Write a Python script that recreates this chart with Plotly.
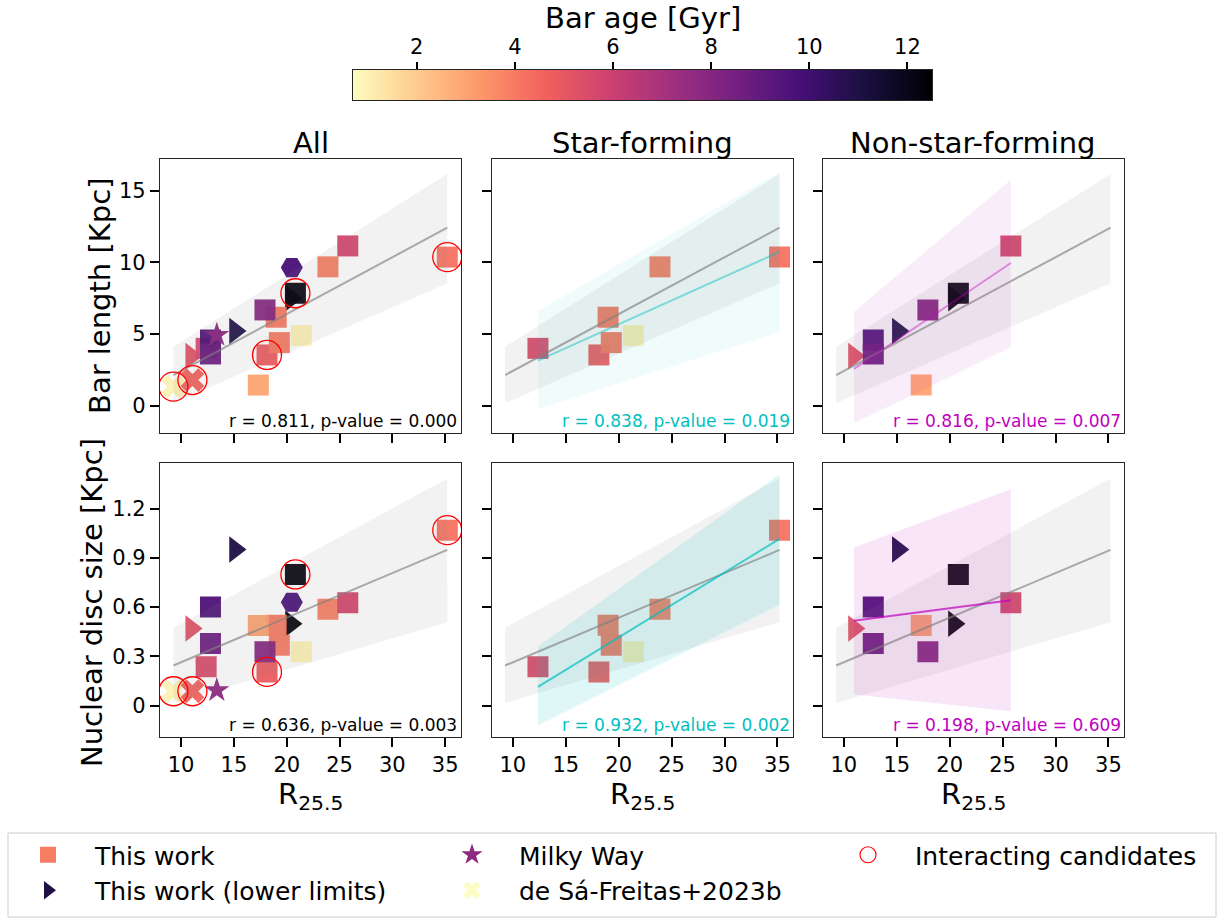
import numpy as np
import plotly.graph_objects as go
import plotly.express as px
from plotly.colors import sample_colorscale

# ---------------- data ----------------
# Star-forming galaxies (This work, squares)
sf_r = [12.37, 18.13, 19.0, 19.3, 21.38, 23.9, 35.2]
sf_bar = [4.0, 3.54, 6.17, 4.4, 4.89, 9.68, 10.36]
sf_nd = [0.236, 0.205, 0.49, 0.368, 0.327, 0.587, 1.069]
sf_age = [5.5, 4.8, 4.0, 4.0, 1.0, 3.9, 4.2]
sf_interact = [False, True, False, False, False, False, True]

# Non-star-forming galaxies (This work; lower limits drawn as triangles)
nsf_r = [10.95, 12.78, 12.78, 15.1, 17.94, 17.31, 20.82, 20.4, 25.78]
nsf_bar = [3.47, 4.58, 3.61, 5.21, 6.68, 1.44, 7.84, 7.49, 11.14]
nsf_nd = [0.47, 0.60, 0.378, 0.951, 0.327, 0.488, 0.799, 0.498, 0.626]
nsf_age = [5.2, 9.6, 8.8, 11.0, 8.0, 3.0, 12.3, 12.4, 5.7]
nsf_lower = [True, False, False, True, False, False, False, True, False]
nsf_interact = [False, False, False, False, False, False, True, False, False]

# Milky Way
mw_r = [13.38]
mw_bar = [4.93]
mw_nd = [0.093]
mw_age = [7.8]

# de Sa-Freitas+2023b
dsf_r = [9.27, 11.07]
dsf_bar = [1.33, 1.79]
dsf_nd = [0.087, 0.087]
dsf_age = [1.0, 4.6]
dsf_interact = [True, True]

# additional galaxy (hexagon)
hex_r = [20.48]
hex_bar = [9.63]
hex_nd = [0.63]
hex_age = [9.8]

# linear fits: [intercept, slope] for the fit line and the band edges
fit_all_bar, hi_all_bar, lo_all_bar = [-1.53, 0.396], [-0.181, 0.464], [-2.825, 0.323]
fit_all_nd, hi_all_nd, lo_all_nd = [-0.0078, 0.02716], [0.1485, 0.03511], [-0.160, 0.01898]
fit_sf_bar, hi_sf_bar, lo_sf_bar = [-0.971, 0.3323], [1.359, 0.4245], [-3.142, 0.2354]
fit_sf_nd, hi_sf_nd, lo_sf_nd = [-0.3743, 0.03948], [-0.2058, 0.0459], [-0.5207, 0.03223]
fit_nsf_bar, hi_nsf_bar, lo_nsf_bar = [-2.888, 0.498], [-0.241, 0.6206], [-5.140, 0.3578]
fit_nsf_nd, hi_nsf_nd, lo_nsf_nd = [0.4258, 0.008356], [0.7002, 0.02399], [0.1429, -0.006873]

stat_text = {
    1: "r = 0.811, p-value = 0.000", 2: "r = 0.838, p-value = 0.019", 3: "r = 0.816, p-value = 0.007",
    4: "r = 0.636, p-value = 0.003", 5: "r = 0.932, p-value = 0.002", 6: "r = 0.198, p-value = 0.609",
}
col_titles = ["All", "Star-forming", "Non-star-forming"]
row_labels = ["Bar length [Kpc]", "Nuclear disc size [Kpc]"]
x_ticks = [10, 15, 20, 25, 30, 35]
bar_ticks = [0, 5, 10, 15]
nd_ticks = [0, 0.3, 0.6, 0.9, 1.2]
nd_ticktext = ["0", "0.3", "0.6", "0.9", "1.2"]
age_ticks = [2, 4, 6, 8, 10, 12]

# ---------------- styling ----------------
W, H = 1224, 918
AGE_MIN, AGE_MAX = 0.7, 12.5
MAGMA_R = px.colors.sequential.Magma_r
FONT = "DejaVu Sans"
OPAC = 0.95
CYAN = "0,191,191"
MAG = "191,0,191"
GRAY = "128,128,128"
BIG = 29
TICK = 21


def age_color(a):
    return sample_colorscale(MAGMA_R, [(a - AGE_MIN) / (AGE_MAX - AGE_MIN)])[0]


def px2x(p):
    return p / W


def px2y(p):
    return 1 - p / H


col_dom = [(160, 461), (491.7, 793.3), (822.7, 1124.3)]
row_dom = [(159, 433), (462.7, 736.7)]

fig = go.Figure()


def ax_names(k):
    return ("x" if k == 1 else f"x{k}"), ("y" if k == 1 else f"y{k}")


def sel(vals, mask, keep=True):
    return [v for v, m in zip(vals, mask) if m == keep]


def scatter(k, xs, ys, ages, symbol, size):
    xa, ya = ax_names(k)
    fig.add_trace(go.Scatter(
        x=xs, y=ys, mode="markers", xaxis=xa, yaxis=ya, showlegend=False, hoverinfo="skip",
        marker=dict(symbol=symbol, size=size, color=ages, colorscale="Magma", reversescale=True,
                    cmin=AGE_MIN, cmax=AGE_MAX, opacity=OPAC, line=dict(width=0))))


def band_and_line(k, xs, fit, hi, lo, rgb, band_alpha, line_alpha):
    xa, ya = ax_names(k)
    x0, x1 = min(xs), max(xs)
    xe = np.array([x0, x1])
    up = hi[0] + hi[1] * xe
    dn = lo[0] + lo[1] * xe
    fig.add_trace(go.Scatter(
        x=[x0, x1, x1, x0, x0], y=[up[0], up[1], dn[1], dn[0], up[0]], mode="lines",
        fill="toself", fillcolor=f"rgba({rgb},{band_alpha})", line=dict(width=0),
        xaxis=xa, yaxis=ya, showlegend=False, hoverinfo="skip"))
    return (xa, ya, xe, fit[0] + fit[1] * xe, f"rgba({rgb},{line_alpha})")


def draw_line(spec):
    xa, ya, xe, ye, col = spec
    fig.add_trace(go.Scatter(x=xe, y=ye, mode="lines", line=dict(color=col, width=2),
                             xaxis=xa, yaxis=ya, showlegend=False, hoverinfo="skip"))


def circles(k, xs, ys):
    xa, ya = ax_names(k)
    fig.add_trace(go.Scatter(
        x=xs, y=ys, mode="markers", xaxis=xa, yaxis=ya, showlegend=False, hoverinfo="skip",
        marker=dict(symbol="circle-open", size=29, color="red", line=dict(width=1.3))))


all_r = sf_r + nsf_r + mw_r + dsf_r + hex_r

for row in range(2):
    sfy = sf_bar if row == 0 else sf_nd
    nsfy = nsf_bar if row == 0 else nsf_nd
    mwy = mw_bar if row == 0 else mw_nd
    dsfy = dsf_bar if row == 0 else dsf_nd
    hexy = hex_bar if row == 0 else hex_nd
    fits = {
        "all": (fit_all_bar, hi_all_bar, lo_all_bar) if row == 0 else (fit_all_nd, hi_all_nd, lo_all_nd),
        "sf": (fit_sf_bar, hi_sf_bar, lo_sf_bar) if row == 0 else (fit_sf_nd, hi_sf_nd, lo_sf_nd),
        "nsf": (fit_nsf_bar, hi_nsf_bar, lo_nsf_bar) if row == 0 else (fit_nsf_nd, hi_nsf_nd, lo_nsf_nd),
    }
    k_all, k_sf, k_nsf = row * 3 + 1, row * 3 + 2, row * 3 + 3
    a_sf = 0.06 if row == 0 else 0.12
    a_m = 0.07 if row == 0 else 0.10
    l_sf = 0.45 if row == 0 else 0.7
    l_m = 0.4 if row == 0 else 0.7

    # ---- All ----
    scatter(k_all, dsf_r, dsfy, dsf_age, "x", 21)
    scatter(k_all, sel(nsf_r, nsf_lower), sel(nsfy, nsf_lower), sel(nsf_age, nsf_lower), "triangle-right", 23)
    scatter(k_all, sf_r, sfy, sf_age, "square", 21)
    scatter(k_all, sel(nsf_r, nsf_lower, False), sel(nsfy, nsf_lower, False), sel(nsf_age, nsf_lower, False), "square", 21)
    scatter(k_all, mw_r, mwy, mw_age, "star", 19)
    scatter(k_all, hex_r, hexy, hex_age, "hexagon2", 22)
    g = band_and_line(k_all, all_r, *fits["all"], GRAY, 0.10, 0.65)
    draw_line(g)
    ix = sel(sf_r, sf_interact) + sel(nsf_r, nsf_interact) + sel(dsf_r, dsf_interact)
    iy = sel(sfy, sf_interact) + sel(nsfy, nsf_interact) + sel(dsfy, dsf_interact)
    circles(k_all, ix, iy)

    # ---- Star-forming ----
    scatter(k_sf, sf_r, sfy, sf_age, "square", 21)
    g = band_and_line(k_sf, all_r, *fits["all"], GRAY, 0.10, 0.65)
    c = band_and_line(k_sf, sf_r, *fits["sf"], CYAN, a_sf, l_sf)
    draw_line(g)
    draw_line(c)

    # ---- Non-star-forming ----
    scatter(k_nsf, sel(nsf_r, nsf_lower), sel(nsfy, nsf_lower), sel(nsf_age, nsf_lower), "triangle-right", 23)
    scatter(k_nsf, sel(nsf_r, nsf_lower, False), sel(nsfy, nsf_lower, False), sel(nsf_age, nsf_lower, False), "square", 21)
    g = band_and_line(k_nsf, all_r, *fits["all"], GRAY, 0.10, 0.65)
    m = band_and_line(k_nsf, nsf_r, *fits["nsf"], MAG, a_m, l_m)
    draw_line(g)
    draw_line(m)

# ---------------- colourbar drawn as a heatmap strip ----------------
grad = np.linspace(AGE_MIN, AGE_MAX, 400)
fig.add_trace(go.Heatmap(z=[grad], x=grad, y=[0.5], colorscale="Magma", reversescale=True,
                         zmin=AGE_MIN, zmax=AGE_MAX, showscale=False, xaxis="x7", yaxis="y7",
                         hoverinfo="skip"))

# ---------------- legend entries ----------------
leg_items = [
    ("This work", "square", age_color(3.9), "legend"),
    ("This work (lower limits)", "triangle-right", age_color(11.0), "legend"),
    ("Milky Way", "star", age_color(7.8), "legend2"),
    ("de Sá-Freitas+2023b", "x", "rgba(252,253,191,0.9)", "legend2"),
    ("Interacting candidates", "circle-open", "red", "legend3"),
]
for name, sym, colr, leg in leg_items:
    fig.add_trace(go.Scatter(
        x=[None], y=[None], mode="markers", name=name, legend=leg, xaxis="x", yaxis="y",
        marker=dict(symbol=sym, size=16, color=colr, line=dict(width=1.2 if sym == "circle-open" else 0))))

# ---------------- layout ----------------
axc = dict(showline=True, mirror=True, linecolor="#262626", linewidth=1.2, ticks="outside",
           ticklen=9, tickwidth=1.5, tickcolor="black", showgrid=False, zeroline=False,
           tickfont=dict(size=TICK, color="black", family=FONT))
layout = dict(width=W, height=H, margin=dict(l=0, r=0, t=0, b=0, autoexpand=False),
              plot_bgcolor="white", paper_bgcolor="white", font=dict(family=FONT, color="black"),
              showlegend=True)
annotations = []
for row in range(2):
    for col in range(3):
        k = row * 3 + col + 1
        xk = "xaxis" if k == 1 else f"xaxis{k}"
        yk = "yaxis" if k == 1 else f"yaxis{k}"
        xa, ya = ax_names(k)
        layout[xk] = dict(axc, domain=[px2x(col_dom[col][0]), px2x(col_dom[col][1])], anchor=ya,
                          range=[8.0, 36.5], tickvals=x_ticks, showticklabels=(row == 1))
        if row == 0:
            ydict = dict(range=[-1.9, 17.2], tickvals=bar_ticks)
        else:
            ydict = dict(range=[-0.19, 1.48], tickvals=nd_ticks, ticktext=nd_ticktext)
        layout[yk] = dict(axc, domain=[px2y(row_dom[row][1]), px2y(row_dom[row][0])], anchor=xa,
                          showticklabels=(col == 0), **ydict)
        tcol = ["black", "rgb(0,191,191)", "rgb(191,0,191)"][col]
        annotations.append(dict(text=stat_text[k], xref=f"{xa} domain", yref=f"{ya} domain",
                                x=0.995, y=0.0, xanchor="right", yanchor="bottom", showarrow=False,
                                font=dict(size=17, color=tcol, family=FONT)))

for col in range(3):
    cx = px2x((col_dom[col][0] + col_dom[col][1]) / 2)
    annotations.append(dict(text=col_titles[col], xref="paper", yref="paper", x=cx, y=px2y(143),
                            xanchor="center", yanchor="middle", showarrow=False,
                            font=dict(size=BIG, family=FONT, color="black")))
    annotations.append(dict(text="R<sub>25.5</sub>", xref="paper", yref="paper", x=cx, y=px2y(796),
                            xanchor="center", yanchor="middle", showarrow=False,
                            font=dict(size=BIG, family=FONT, color="black")))
annotations.append(dict(text=row_labels[0], xref="paper", yref="paper", x=px2x(100), y=px2y(296),
                        xanchor="center", yanchor="middle", textangle=-90, showarrow=False,
                        font=dict(size=BIG, family=FONT, color="black")))
annotations.append(dict(text=row_labels[1], xref="paper", yref="paper", x=px2x(92), y=px2y(603),
                        xanchor="center", yanchor="middle", textangle=-90, showarrow=False,
                        font=dict(size=BIG, family=FONT, color="black")))
annotations.append(dict(text="Bar age [Gyr]", xref="paper", yref="paper", x=px2x(642.5), y=px2y(18),
                        xanchor="center", yanchor="middle", showarrow=False,
                        font=dict(size=BIG, family=FONT, color="black")))
layout["annotations"] = annotations

layout["xaxis7"] = dict(axc, domain=[px2x(353), px2x(932)], anchor="y7", range=[AGE_MIN, AGE_MAX],
                        tickvals=age_ticks, side="top", ticklen=7)
layout["yaxis7"] = dict(axc, domain=[px2y(100), px2y(70)], anchor="x7", range=[0, 1],
                        showticklabels=False, ticks="")

legfont = dict(size=25, family=FONT, color="black")
for key, xp in (("legend", 1), ("legend2", 425), ("legend3", 821)):
    layout[key] = dict(x=px2x(xp), y=px2y(832), xanchor="left", yanchor="top", font=legfont,
                       bgcolor="rgba(0,0,0,0)", itemsizing="trace", tracegroupgap=0, itemwidth=84)
layout["shapes"] = [dict(type="rect", xref="paper", yref="paper", x0=px2x(8), x1=px2x(1216),
                         y0=px2y(917), y1=px2y(833), line=dict(color="#cccccc", width=1))]

fig.update_layout(**layout)
fig.write_html("out.html")
